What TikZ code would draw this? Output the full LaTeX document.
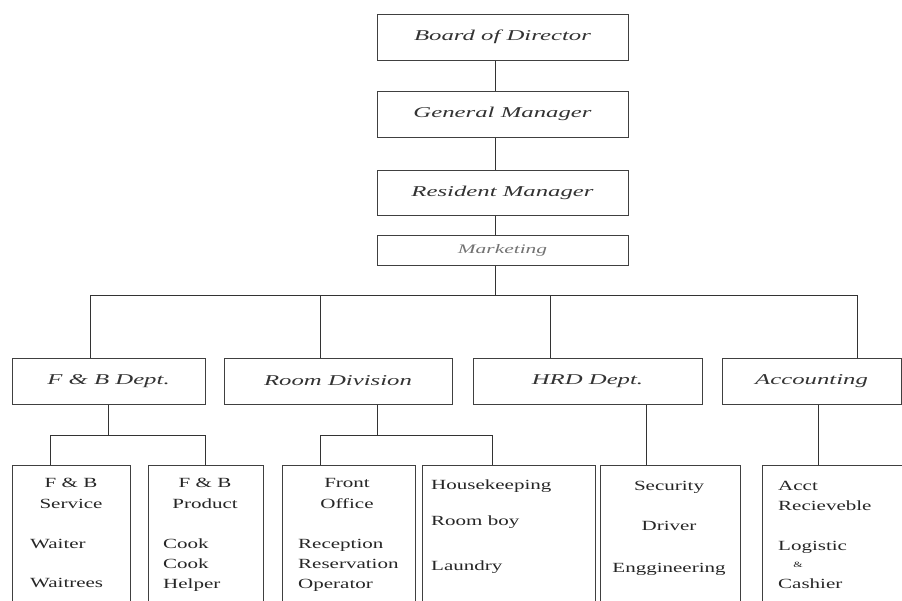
\documentclass[tikz,border=0pt]{standalone}
\usepackage{fontspec}
\setmainfont[FakeStretch=1.5]{Liberation Serif}
\newfontfamily\headfont[FakeStretch=1.65]{Liberation Serif}

\begin{document}
\begin{tikzpicture}[x=1pt,y=-1pt,
  box/.style={draw=black!75,line width=1pt,minimum height=46,inner sep=0,
    font=\headfont\itshape\fontsize{15}{18}\selectfont,text=black!80},
  subbox/.style={draw=black!75,line width=1pt,anchor=north,minimum height=150,inner sep=0},
  item/.style={font=\fontsize{14}{16}\selectfont,text=black!85,inner sep=0,anchor=base},
  link/.style={draw=black!80,line width=1pt}]
\clip (0,0) rectangle (902,600);
\fill[white] (0,0) rectangle (902,600);
% Top chain
\node[box,minimum width=251] (board) at (502.5,37) {Board of Director};
\node[box,minimum width=251] (gm) at (502.5,114) {General Manager};
\node[box,minimum width=251,minimum height=45] (rm) at (502.5,192.5) {Resident Manager};
\node[box,minimum width=251,minimum height=30,text=black!55,
  font=\headfont\itshape\fontsize{13}{15}\selectfont] (mkt) at (502.5,250) {Marketing};
\draw[link] ([xshift=-7]board.south) -- ([xshift=-7]gm.north);
\draw[link] ([xshift=-7]gm.south) -- ([xshift=-7]rm.north);
\draw[link] ([xshift=-7]rm.south) -- ([xshift=-7]mkt.north);
% Departments
\node[box,minimum width=193] (fb) at (108.5,381) {F \& B Dept.};
\node[box,minimum width=228] (room) at (338,381) {Room Division};
\node[box,minimum width=229] (hrd) at (587.5,381) {HRD Dept.};
\node[box,minimum width=179] (acc) at (811.5,381) {Accounting};
\coordinate (bus) at (495,295);
\coordinate (d1) at (90,295);
\coordinate (d2) at (320,295);
\coordinate (d3) at (550,295);
\coordinate (d4) at (857,295);
\draw[link] (mkt.south -| bus) -- (bus);
\draw[link] (d1) -- (d4);
\foreach \c/\d in {d1/fb,d2/room,d3/hrd,d4/acc}
  \draw[link] (\c) -- (\c |- \d.north);
% Sections
\node[subbox,minimum width=118] (fbs) at (71,465) {};
\node[subbox,minimum width=115] (fbp) at (205.5,465) {};
\node[subbox,minimum width=133] (fo) at (348.5,465) {};
\node[subbox,minimum width=173] (hk) at (508.5,465) {};
\node[subbox,minimum width=140] (sec) at (670,465) {};
\node[subbox,minimum width=143] (accs) at (833.5,465) {};
\coordinate (fbl) at (50,435);
\coordinate (fbr) at (205,435);
\coordinate (rmj) at (377,435);
\coordinate (rml) at (320,435);
\coordinate (rmr) at (492,435);
\coordinate (hrj) at (646,435);
\coordinate (acj) at (818,435);
\draw[link] (fb.south) -- (fb.south |- fbl);
\draw[link] (fbl |- fbs.north) -- (fbl) -- (fbr) -- (fbr |- fbp.north);
\draw[link] (room.south -| rmj) -- (rmj);
\draw[link] (rml |- fo.north) -- (rml) -- (rmr) -- (rmr |- hk.north);
\draw[link] (hrd.south -| hrj) -- (hrj |- sec.north);
\draw[link] (acc.south -| acj) -- (acj |- accs.north);
% Section staff
\foreach \t/\x/\y [count=\i] in {F \& B/71/487,Service/71/508}
  \node[item] (fbs\i) at (\x,\y) {\t};
\foreach \t/\y [count=\i] in {Waiter/548,Waitrees/587}
  \node[item,anchor=base west] (fbsw\i) at (30,\y) {\t};
\foreach \t/\x/\y [count=\i] in {F \& B/205/487,Product/205/508}
  \node[item] (fbp\i) at (\x,\y) {\t};
\foreach \t/\y [count=\i] in {Cook/548,Cook/568,Helper/588}
  \node[item,anchor=base west] (fbpw\i) at (163,\y) {\t};
\foreach \t/\x/\y [count=\i] in {Front/347/487,Office/347/508}
  \node[item] (fo\i) at (\x,\y) {\t};
\foreach \t/\y [count=\i] in {Reception/548,Reservation/568,Operator/588}
  \node[item,anchor=base west] (fow\i) at (298,\y) {\t};
\foreach \t/\y [count=\i] in {Housekeeping/489,Room boy/525,Laundry/570}
  \node[item,anchor=base west] (hk\i) at (431,\y) {\t};
\foreach \t/\y [count=\i] in {Security/490,Driver/530,Enggineering/572}
  \node[item] (sec\i) at (669,\y) {\t};
\foreach \t/\y [count=\i] in {Acct/490,Recieveble/510,Logistic/550,Cashier/588}
  \node[item,anchor=base west] (accs\i) at (778,\y) {\t};
\node[item,font=\fontsize{8}{9}\selectfont] (accsamp) at (798,567) {\&};
\end{tikzpicture}
\end{document}
